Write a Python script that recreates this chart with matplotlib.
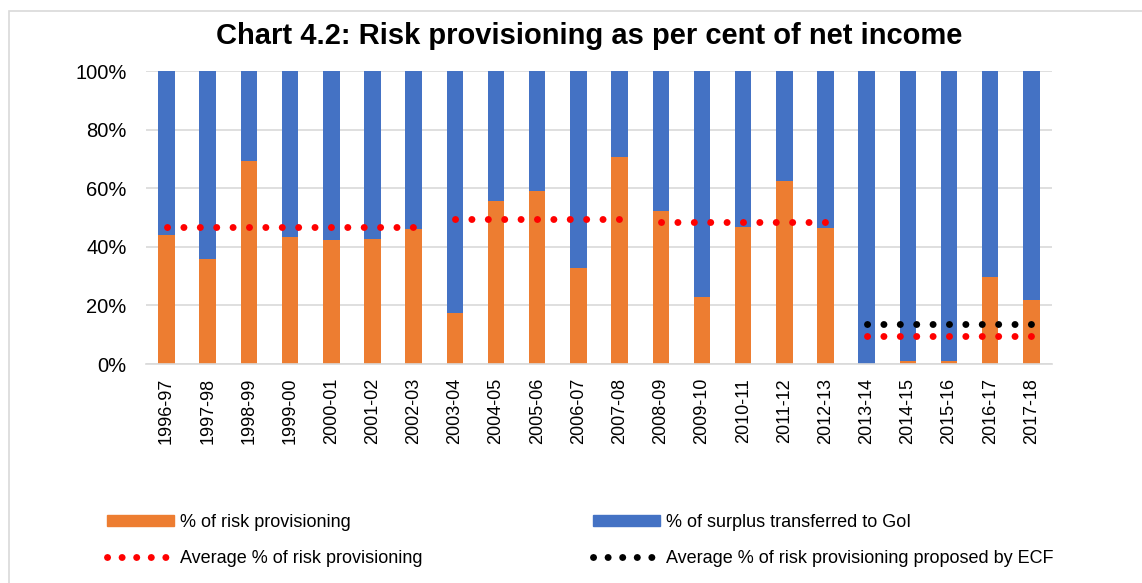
import numpy as np
import matplotlib.pyplot as plt
from matplotlib.lines import Line2D
from matplotlib.patches import Patch, Rectangle

plt.rcParams['font.family'] = ['Liberation Sans', 'DejaVu Sans']

years = ['1996-97', '1997-98', '1998-99', '1999-00', '2000-01', '2001-02',
         '2002-03', '2003-04', '2004-05', '2005-06', '2006-07', '2007-08',
         '2008-09', '2009-10', '2010-11', '2011-12', '2012-13', '2013-14',
         '2014-15', '2015-16', '2016-17', '2017-18']
risk_pct = [44.2, 35.7, 69.3, 43.4, 42.2, 42.8, 46.1, 17.4, 55.6, 58.9, 32.8,
            70.6, 52.1, 23.0, 46.9, 62.6, 46.4, 0.0, 1.1, 1.1, 29.8, 22.0]
surplus_pct = [55.8, 64.3, 30.7, 56.6, 57.8, 57.2, 53.9, 82.6, 44.4, 41.1, 67.2,
               29.4, 47.9, 77.0, 53.1, 37.4, 53.6, 100.0, 98.9, 98.9, 70.2, 78.0]

# average risk provisioning per period (first year, last year, value)
avg_first = ['1996-97', '2003-04', '2008-09', '2013-14']
avg_last = ['2002-03', '2007-08', '2012-13', '2017-18']
avg_value = [46.6, 49.4, 48.5, 9.7]

# average proposed by ECF
ecf_first = '2013-14'
ecf_last = '2017-18'
ecf_value = 13.5

orange = '#ED7D31'
blue = '#4472C4'
dot_lw = 5
dot_style = (0, (0.01, 2.35))

fig = plt.figure(figsize=(11.42, 5.83), dpi=100)
ax = fig.add_axes([0.1278, 0.3756, 0.7934, 0.5026])

x = np.arange(len(years))
ax.bar(x, risk_pct, width=0.4, color=orange, zorder=2)
ax.bar(x, surplus_pct, width=0.4, bottom=risk_pct, color=blue, zorder=2)

for first, last, val in zip(avg_first, avg_last, avg_value):
    i0, i1 = years.index(first), years.index(last)
    ax.plot([i0, i1], [val, val], color='#FF0000', lw=dot_lw,
            linestyle=dot_style, dash_capstyle='round', zorder=3)

i0, i1 = years.index(ecf_first), years.index(ecf_last)
ax.plot([i0, i1], [ecf_value, ecf_value], color='black', lw=dot_lw,
        linestyle=dot_style, dash_capstyle='round', zorder=3)

ax.set_xlim(-0.5, len(years) - 0.5)
ax.set_ylim(0, 100)
ax.set_yticks(range(0, 101, 20))
ax.set_yticklabels([f'{v}%' for v in range(0, 101, 20)])
ax.set_xticks(x)
ax.set_xticklabels(years, rotation=90)
ax.tick_params(axis='y', length=0, pad=14, labelsize=14.5)
ax.tick_params(axis='x', length=0, pad=10, labelsize=13)
ax.grid(axis='y', color='#D9D9D9', lw=1.2, zorder=0)
for side in ['left', 'right', 'top']:
    ax.spines[side].set_visible(False)
ax.spines['bottom'].set_color('#D9D9D9')
ax.spines['bottom'].set_linewidth(1.2)

fig.text(0.516, 0.938, 'Chart 4.2: Risk provisioning as per cent of net income',
         ha='center', va='center', fontsize=21, fontweight='bold')

legend_dots = (0, (0.01, 2.09))
handles = [
    Patch(color=orange),
    Line2D([], [], color='#FF0000', lw=dot_lw, linestyle=legend_dots,
           dash_capstyle='round'),
    Patch(color=blue),
    Line2D([], [], color='black', lw=dot_lw, linestyle=legend_dots,
           dash_capstyle='round'),
]
labels = ['% of risk provisioning', 'Average % of risk provisioning',
          '% of surplus transferred to GoI',
          'Average % of risk provisioning proposed by ECF']
fig.legend(handles, labels, ncol=2, loc='upper left',
           bbox_to_anchor=(107 / 1142, 1 - 514 / 583), frameon=False,
           fontsize=13, handlelength=3.7, handleheight=0.5,
           handletextpad=0.35, columnspacing=9.45, labelspacing=1.06,
           borderpad=0, borderaxespad=0)

# outer chart border (top and left visible)
fig.add_artist(Rectangle((9 / 1142, -0.1), 1.2, 1 - 11 / 583 + 0.1,
                         transform=fig.transFigure, fill=False,
                         edgecolor='#D9D9D9', lw=1.2))

fig.savefig('out.png', dpi=100)
